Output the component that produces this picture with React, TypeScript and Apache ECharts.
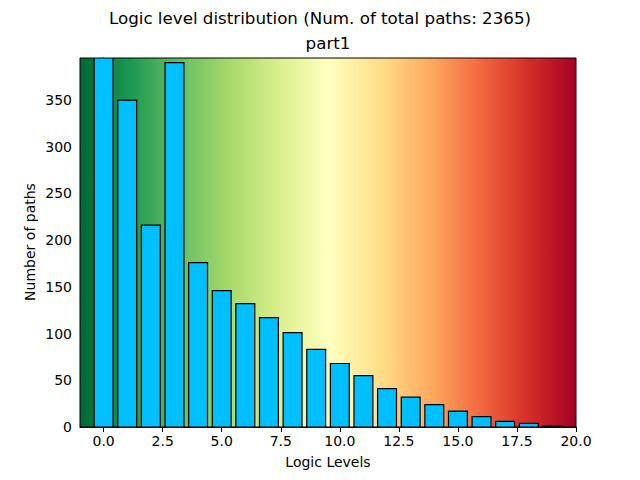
import { useEffect, useRef } from 'react';
import * as echarts from 'echarts';

const levels = [0, 1, 2, 3, 4, 5, 6, 7, 8, 9, 10, 11, 12, 13, 14, 15, 16, 17, 18, 19];
const pathCounts = [395, 350, 216, 390, 176, 146, 132, 117, 101, 83, 68, 55, 41, 32, 24, 17, 11, 6, 4, 1];
const xTicks = [0, 2.5, 5, 7.5, 10, 12.5, 15, 17.5, 20];
const yTicks = [0, 50, 100, 150, 200, 250, 300, 350];
// RdYlGn reversed: green on the left, red on the right
const bgColors = ['#006837', '#1a9850', '#66bd63', '#a6d96a', '#d9ef8b', '#ffffbf', '#fee08b', '#fdae61', '#f46d43', '#d73027', '#a50026'];

const font = 'DejaVu Sans';

export default function App() {
  const chartRef = useRef<HTMLDivElement>(null);

  useEffect(() => {
    if (!chartRef.current) return;
    const chart = echarts.init(chartRef.current, undefined, { renderer: 'svg' });

    const option: echarts.EChartsOption = {
      animation: false,
      grid: {
        left: 80,
        right: 64,
        top: 58,
        bottom: 53,
        show: true,
        borderColor: '#000',
        borderWidth: 1,
        backgroundColor: new echarts.graphic.LinearGradient(
          0, 0, 1, 0,
          bgColors.map((c, i) => ({ offset: i / (bgColors.length - 1), color: c }))
        ),
      },
      xAxis: {
        type: 'value',
        min: -1,
        max: 20,
        splitLine: { show: false },
        axisLine: { onZero: false, lineStyle: { color: '#000', width: 1 } },
        axisTick: { show: true, length: 5, lineStyle: { color: '#000' }, customValues: xTicks },
        axisLabel: {
          customValues: xTicks,
          color: '#000',
          fontSize: 14,
          fontFamily: font,
          margin: 7,
          formatter: (v: number) => v.toFixed(1),
        },
      },
      yAxis: {
        type: 'value',
        min: 0,
        max: 395,
        splitLine: { show: false },
        axisLine: { show: true, lineStyle: { color: '#000', width: 1 } },
        axisTick: { show: true, length: 5, lineStyle: { color: '#000' }, customValues: yTicks },
        axisLabel: {
          customValues: yTicks,
          color: '#000',
          fontSize: 14,
          fontFamily: font,
          margin: 8,
        },
      },
      series: [
        {
          type: 'custom',
          clip: true,
          data: levels.map((l, i) => [l, pathCounts[i]]),
          renderItem: (params: any, api: any) => {
            const x = api.value(0);
            const y = api.value(1);
            const p0 = api.coord([x - 0.4, y]);
            const p1 = api.coord([x + 0.4, 0]);
            return {
              type: 'rect',
              shape: { x: p0[0], y: p0[1], width: p1[0] - p0[0], height: p1[1] - p0[1] },
              style: { fill: '#00bfff', stroke: '#000', lineWidth: 1.2 },
            };
          },
        },
      ],
      graphic: [
        {
          type: 'text',
          x: 320,
          y: 18,
          style: { text: 'Logic level distribution (Num. of total paths: 2365)', fontSize: 16.7, fontFamily: font, fill: '#000', align: 'center', verticalAlign: 'middle' },
        },
        {
          type: 'text',
          x: 328,
          y: 43,
          style: { text: 'part1', fontSize: 16.7, fontFamily: font, fill: '#000', align: 'center', verticalAlign: 'middle' },
        },
        {
          type: 'text',
          x: 328,
          y: 462,
          style: { text: 'Logic Levels', fontSize: 14, fontFamily: font, fill: '#000', align: 'center', verticalAlign: 'middle' },
        },
        {
          type: 'text',
          x: 30,
          y: 242,
          rotation: Math.PI / 2,
          style: { text: 'Number of paths', fontSize: 14, fontFamily: font, fill: '#000', align: 'center', verticalAlign: 'middle' },
        },
      ],
    };

    chart.setOption(option);
    return () => chart.dispose();
  }, []);

  return <div ref={chartRef} style={{ width: 640, height: 480, position: 'absolute', left: 0, top: 0 }} />;
}
